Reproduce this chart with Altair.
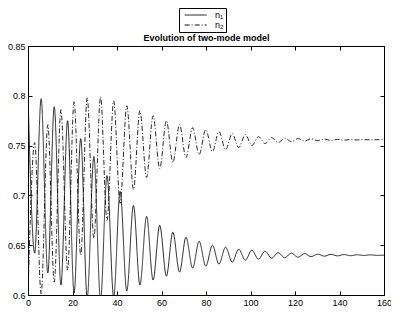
import altair as alt
import pandas as pd

# extrema times (half-period steps)
t = [0, 3.0, 5.9, 8.9, 11.8, 14.8, 17.8, 20.7, 23.7, 26.6, 29.6, 32.6, 35.5, 38.5,
     41.4, 44.4, 47.4, 50.3, 53.3, 56.2, 59.2, 62.2, 65.1, 68.1, 71.0, 74.0, 76.9,
     79.9, 82.9, 85.8, 88.8, 91.8, 94.7, 97.7, 100.6, 103.6, 106.5, 109.5, 112.4,
     115.4, 118.4, 121.3, 124.3, 127.2, 130.2, 133.2, 136.1, 139.1, 142.0, 145.0,
     148.0, 150.9, 153.9, 156.8, 160.0]

n1 = [0.800, 0.642, 0.797, 0.622, 0.789, 0.610, 0.775, 0.602, 0.757, 0.597, 0.739,
      0.595, 0.720, 0.598, 0.704, 0.604, 0.690, 0.610, 0.679, 0.615, 0.670, 0.619,
      0.663, 0.623, 0.658, 0.627, 0.654, 0.629, 0.650, 0.631, 0.648, 0.633, 0.646,
      0.635, 0.645, 0.636, 0.644, 0.637, 0.6425, 0.6375, 0.642, 0.638, 0.6415,
      0.6385, 0.641, 0.639, 0.6408, 0.6393, 0.6406, 0.6395, 0.6404, 0.6397, 0.6403,
      0.6398, 0.640]

n2 = [0.600, 0.753, 0.601, 0.771, 0.613, 0.786, 0.625, 0.794, 0.640, 0.798, 0.657,
      0.799, 0.675, 0.795, 0.692, 0.790, 0.706, 0.785, 0.718, 0.780, 0.727, 0.775,
      0.733, 0.771, 0.738, 0.768, 0.741, 0.766, 0.744, 0.764, 0.746, 0.762, 0.748,
      0.761, 0.750, 0.759, 0.752, 0.758, 0.753, 0.7575, 0.754, 0.757, 0.7545,
      0.7568, 0.755, 0.7565, 0.7553, 0.7562, 0.7555, 0.756, 0.7557, 0.7559, 0.7558,
      0.7559, 0.756]

series_names = ["n\u2081", "n\u2082"]
x_ticks = [0, 20, 40, 60, 80, 100, 120, 140, 160]
y_ticks = [0.6, 0.65, 0.7, 0.75, 0.8, 0.85]
title_text = "Evolution of two-mode model"

df = pd.DataFrame({
    "t": t + t,
    "value": n1 + n2,
    "series": [series_names[0]] * len(t) + [series_names[1]] * len(t),
})

FONT = "Liberation Sans"
x_scale = alt.Scale(domain=[0, 160], nice=False, zero=False)
y_scale = alt.Scale(domain=[0.6, 0.85], nice=False, zero=False)
dash_scale = alt.Scale(domain=series_names, range=[[1, 0], [5, 2, 1, 2]])

legend = alt.Legend(
    title=None, orient="none", legendX=151, legendY=-38,
    strokeColor="black", padding=2, rowPadding=0,
    symbolType="M-0.3,0H4.6", symbolSize=81, symbolStrokeWidth=1,
    symbolStrokeColor="#111", symbolFillColor="transparent",
    labelFont=FONT, labelFontSize=9, labelColor="black", labelOffset=24,
)

base = alt.Chart(df)

layer1 = base.transform_filter(alt.datum.series == series_names[0]).mark_line(
    interpolate="monotone", clip=True, color="#111", strokeWidth=0.9
).encode(
    x=alt.X("t:Q", scale=x_scale, axis=alt.Axis(
        orient="bottom", values=x_ticks, offset=-4, tickSize=4, labelPadding=3,
        domain=False, grid=False, title=None, labelFlush=False)),
    y=alt.Y("value:Q", scale=y_scale, axis=alt.Axis(
        orient="left", values=y_ticks, format=".2~f", offset=-4, tickSize=4,
        labelPadding=3, domain=False, grid=False, title=None)),
    strokeDash=alt.StrokeDash("series:N", scale=dash_scale, legend=legend),
)

layer2 = base.transform_filter(alt.datum.series == series_names[1]).mark_line(
    interpolate="monotone", clip=True, color="#111", strokeWidth=0.9
).encode(
    x=alt.X("t:Q", scale=x_scale, axis=alt.Axis(
        orient="top", values=x_ticks, offset=-4, tickSize=4, labels=False,
        domain=False, grid=False, title=title_text, titleFont=FONT,
        titleFontSize=9, titleFontWeight="bold", titleColor="black",
        titleBaseline="alphabetic", titleAnchor="middle", titleY=-10)),
    y=alt.Y("value:Q", scale=y_scale, axis=alt.Axis(
        orient="right", values=y_ticks, offset=-4, tickSize=4, labels=False,
        domain=False, grid=False, title=None)),
    strokeDash=alt.StrokeDash("series:N", scale=dash_scale, legend=legend),
)

chart = alt.layer(layer1, layer2).resolve_axis(
    x="independent", y="independent"
).properties(
    width=356, height=249,
    padding={"left": 20, "top": 38, "right": 7, "bottom": 12},
    autosize=alt.AutoSizeParams(type="none"),
).configure_view(
    stroke="black", strokeWidth=1
).configure_axis(
    tickColor="black", labelColor="black", labelFont=FONT, labelFontSize=9,
    tickWidth=1
)

chart.save("out.html", embed_options={"renderer": "svg", "actions": False})
